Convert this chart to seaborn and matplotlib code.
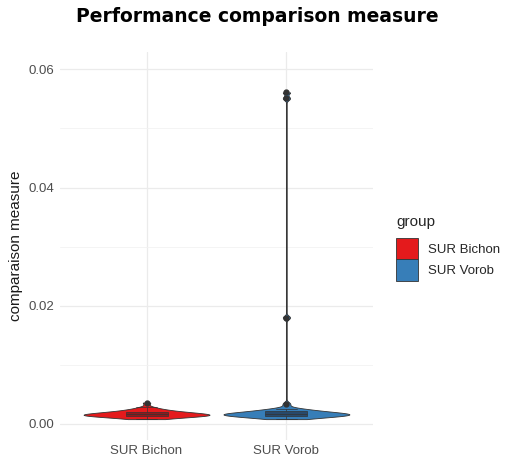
import numpy as np
import pandas as pd
import seaborn as sns
import matplotlib.pyplot as plt
from matplotlib.patches import Patch

# values
groups = ["SUR Bichon", "SUR Vorob"]
colors = ["#E41A1C", "#377EB8"]
box_colors = ["#8e1a1c", "#28496a"]

bichon = [0.0008, 0.0009, 0.0010, 0.0011, 0.0012, 0.0012, 0.0013, 0.0013,
          0.0014, 0.0014, 0.0014, 0.0015, 0.0015, 0.0015, 0.0015, 0.0016,
          0.0016, 0.0016, 0.0017, 0.0017, 0.0018, 0.0018, 0.0019, 0.0019,
          0.0020, 0.0020, 0.0021, 0.0022, 0.0023, 0.0024, 0.0026, 0.0028,
          0.0036]
vorob = [0.0008, 0.0009, 0.0010, 0.0011, 0.0012, 0.0012, 0.0013, 0.0013,
         0.0014, 0.0014, 0.0015, 0.0015, 0.0015, 0.0016, 0.0016, 0.0016,
         0.0017, 0.0017, 0.0017, 0.0018, 0.0018, 0.0019, 0.0019, 0.0020,
         0.0020, 0.0021, 0.0022, 0.0023, 0.0024, 0.0025, 0.0026, 0.0034,
         0.0180, 0.0551, 0.0561]
bw_adjust = [1.0, 0.05]

df = pd.DataFrame({
    "group": [groups[0]] * len(bichon) + [groups[1]] * len(vorob),
    "value": bichon + vorob,
})

sns.set_theme(style="whitegrid")
plt.rcParams['font.family'] = ['Liberation Sans', 'DejaVu Sans']

fig = plt.figure(figsize=(5.07, 4.62), dpi=100)
ax = fig.add_axes([0.118, 0.048, 0.618, 0.839])

for g, c, bw in zip(groups, colors, bw_adjust):
    sub = df[df.group == g]
    sns.violinplot(data=sub, x="group", y="value", order=groups, color=c,
                   width=0.9, cut=0, inner=None, bw_adjust=bw, gridsize=3000,
                   linewidth=0.6, linecolor="#333333", saturation=1, ax=ax)

sns.boxplot(data=df, x="group", y="value", order=groups, hue="group",
            hue_order=groups, palette=box_colors, width=0.3, linewidth=0.5,
            linecolor="#333333", saturation=1, legend=False,
            flierprops=dict(marker="o", markerfacecolor="#333333",
                            markeredgecolor="#333333", markersize=3.5),
            ax=ax)

ax.set_ylim(-0.0027, 0.0629)
ax.set_xlim(-0.62, 1.62)
ax.set_yticks([0.0, 0.02, 0.04, 0.06])
ax.set_yticks([0.01, 0.03, 0.05], minor=True)
ax.set_yticklabels(["0.00", "0.02", "0.04", "0.06"])
ax.grid(True, which="major", color="#EBEBEB", linewidth=0.9)
ax.grid(True, which="minor", axis="y", color="#F2F2F2", linewidth=0.6)
ax.tick_params(axis="both", which="both", length=0, labelsize=9.5,
               labelcolor="#4D4D4D", pad=4)
for s in ax.spines.values():
    s.set_visible(False)
ax.set_xlabel("")
ax.set_ylabel("comparaison measure", fontsize=11, color="#1A1A1A", labelpad=4)

handles = [Patch(facecolor=c, edgecolor="#333333", linewidth=0.6) for c in colors]
leg = fig.legend(handles, groups, title="group", loc="center left",
                 bbox_to_anchor=(0.758, 0.464), frameon=False, fontsize=9.5,
                 title_fontsize=11, handlelength=1.65, handleheight=2.1,
                 handletextpad=0.75, labelspacing=0.0)
leg._legend_box.align = "left"
leg._legend_box.sep = 7

fig.suptitle("Performance comparison measure", x=0.508, y=0.985,
             fontsize=13.5, fontweight="bold", family="DejaVu Sans",
             color="black")

fig.savefig("out.png", dpi=100)
